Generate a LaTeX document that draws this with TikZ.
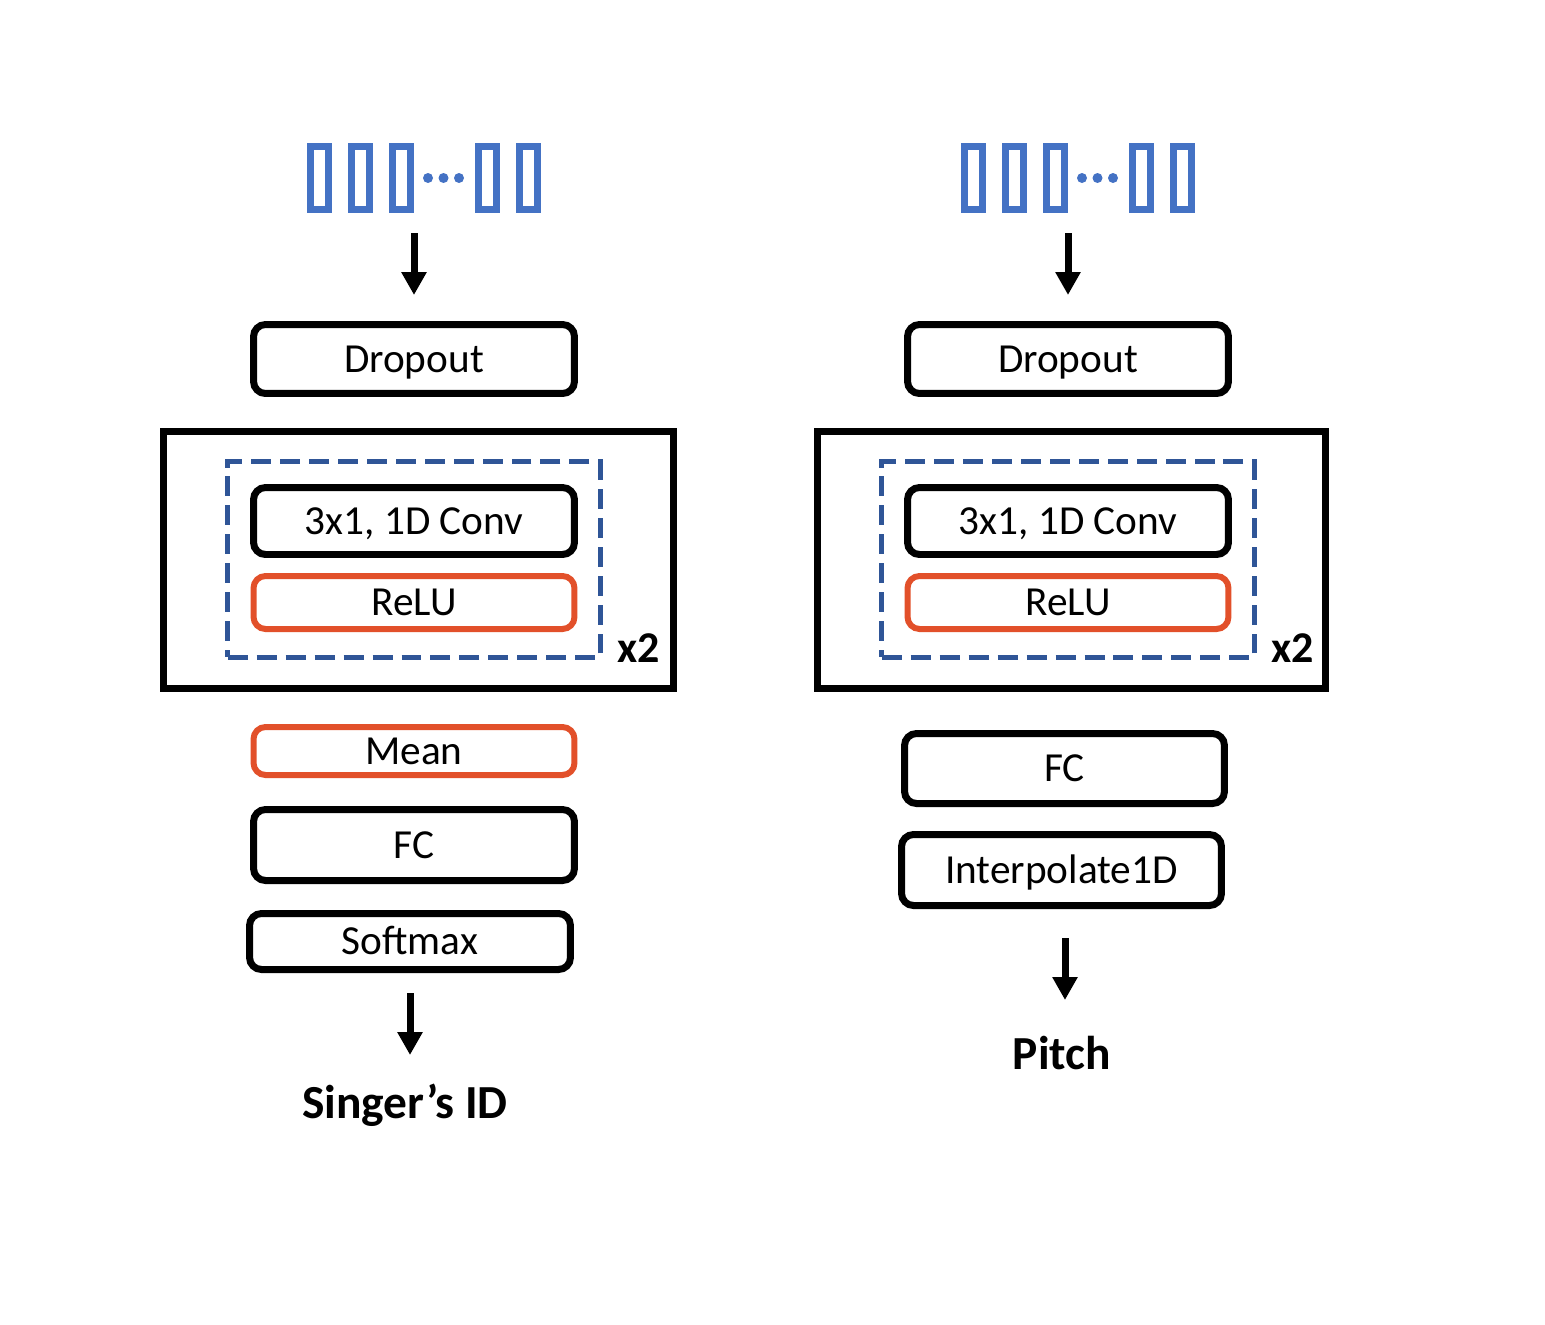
\documentclass[tikz,border=0pt]{standalone}
\usepackage{fontspec}
\setmainfont{Carlito}
\usetikzlibrary{arrows.meta}
\definecolor{inblue}{HTML}{4472C4}
\definecolor{dashblue}{HTML}{2F5597}
\definecolor{relu}{HTML}{E2502A}
\begin{document}
\begin{tikzpicture}[x=0.02cm,y=-0.02cm,
  blk/.style={draw=black, line width=0.14cm, rounded corners=0.24cm, minimum width=6.42cm, inner sep=0pt, text height=15pt, text depth=0pt, font=\fontsize{23.5}{27}\selectfont},
  oblk/.style={blk, draw=relu, line width=0.12cm},
  outerbox/.style={draw=black, line width=0.14cm, inner sep=0pt},
  dashbox/.style={draw=dashblue, line width=0.1cm, dash pattern=on 0.4cm off 0.18cm, inner sep=0pt, minimum width=7.46cm, minimum height=3.92cm},
  bar/.style={draw=inblue, line width=0.14cm, inner sep=0pt, minimum width=0.36cm, minimum height=1.26cm},
  dotc/.style={fill=inblue, circle, inner sep=0pt, minimum size=0.2cm},
  flow/.style={line width=0.14cm, -{Triangle[width=0.48cm,length=0.46cm]}},
  lbl/.style={font=\bfseries\fontsize{27}{30}\selectfont, inner sep=0pt},
  rep/.style={font=\bfseries\fontsize{25}{28}\selectfont, inner sep=0pt}]
\useasboundingbox (0,0) rectangle (1545,1325);

% ---------------- Left column ----------------
\foreach \i/\xx in {1/319.5,2/360.5,3/401.5,4/487,5/528.5}
  \node[bar] (inL\i) at (\xx,178) {};
\foreach \i/\xx in {1/428,2/443.5,3/459}
  \node[dotc] (dL\i) at (\xx,178) {};
\coordinate (aL1) at (414,233);
\coordinate (aL2) at (414,295);
\draw[flow] (aL1) -- (aL2);

\node[blk, minimum height=1.38cm] (dropL) at (414,359) {Dropout};
\node[outerbox, minimum width=10.2cm, minimum height=5.14cm] (outL) at (418.5,560) {};
\node[dashbox] (dashL) at (414,559.5) {};
\node[blk, minimum height=1.34cm] (convL) at (414,521) {3x1, 1D Conv};
\node[oblk, minimum height=1.06cm] (reluL) at (414,602.5) {ReLU};
\node[rep] (x2L) at (638.5,648) {x2};
\node[oblk, minimum height=0.96cm] (meanL) at (414,751) {Mean};
\node[blk, minimum height=1.42cm] (fcL) at (414,845) {FC};
\node[blk, minimum height=1.12cm] (softL) at (410,941.5) {Softmax};
\coordinate (bL1) at (410,993);
\coordinate (bL2) at (410,1055);
\draw[flow] (bL1) -- (bL2);
\node[lbl] (outLbl) at (405,1105) {Singer’s ID};

% ---------------- Right column ----------------
\foreach \i/\xx in {1/973.5,2/1014.5,3/1055.5,4/1141,5/1182.5}
  \node[bar] (inR\i) at (\xx,178) {};
\foreach \i/\xx in {1/1082,2/1097.5,3/1113}
  \node[dotc] (dR\i) at (\xx,178) {};
\coordinate (aR1) at (1068,233);
\coordinate (aR2) at (1068,295);
\draw[flow] (aR1) -- (aR2);

\node[blk, minimum height=1.38cm] (dropR) at (1068,359) {Dropout};
\node[outerbox, minimum width=10.16cm, minimum height=5.14cm] (outR) at (1071.5,560) {};
\node[dashbox] (dashR) at (1068,559.5) {};
\node[blk, minimum height=1.34cm] (convR) at (1068,521) {3x1, 1D Conv};
\node[oblk, minimum height=1.06cm] (reluR) at (1068,602.5) {ReLU};
\node[rep] (x2R) at (1292.5,648) {x2};
\node[blk, minimum width=6.4cm, minimum height=1.4cm] (fcR) at (1064.5,768.5) {FC};
\node[blk, minimum width=6.4cm, minimum height=1.42cm] (interpR) at (1061.5,870) {Interpolate1D};
\coordinate (bR1) at (1065,938);
\coordinate (bR2) at (1065,1000);
\draw[flow] (bR1) -- (bR2);
\node[lbl] (pitchLbl) at (1062,1053) {Pitch};
\end{tikzpicture}
\end{document}
